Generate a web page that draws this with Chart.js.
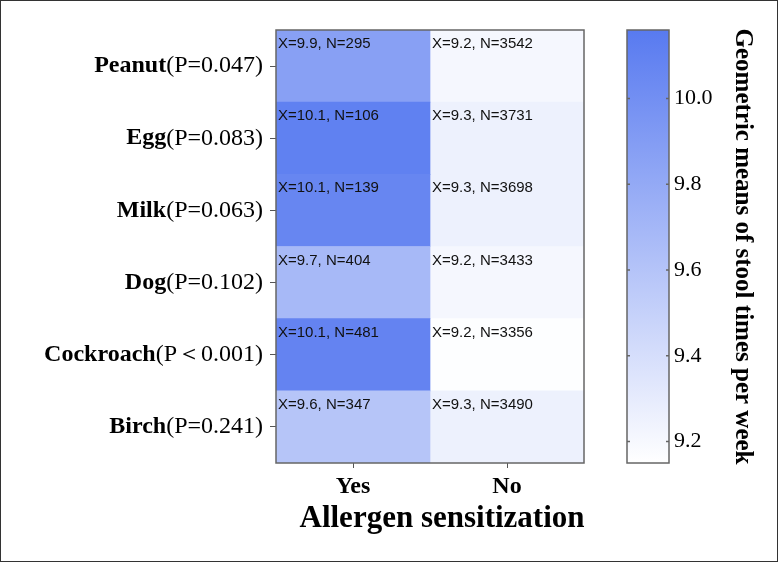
<!DOCTYPE html>
<html>
<head>
<meta charset="utf-8">
<script src="https://cdn.jsdelivr.net/npm/chart.js@4.4.1/dist/chart.umd.min.js"></script>
<style>
    html, body { margin: 0; padding: 0; background: #fff; }
    #frame { position: relative; width: 778px; height: 562px; overflow: hidden; }
    #heat { position: absolute; left: 0; top: 0; }
    #bar { position: absolute; left: 584px; top: 0; }
    #edge { position: absolute; left: 0; top: 0; width: 778px; height: 562px; box-sizing: border-box; border: 1px solid #333; pointer-events: none; }
</style>
</head>
<body>
<div id="frame">
    <canvas id="heat" width="778" height="562"></canvas>
    <canvas id="bar" width="194" height="562"></canvas>
    <div id="edge"></div>
</div>
<script>
const allergens = ['Peanut', 'Egg', 'Milk', 'Dog', 'Cockroach', 'Birch'];
const pValues = ['(P=0.047)', '(P=0.083)', '(P=0.063)', '(P=0.102)', '(P\uFF1C0.001)', '(P=0.241)'];
const groups = ['Yes', 'No'];

// geometric means (colour from these, label shows 1 decimal)
const meansYes = [9.87, 10.11, 10.07, 9.68, 10.09, 9.59];
const meansNo = [9.21, 9.26, 9.26, 9.21, 9.16, 9.26];
const nYes = [295, 106, 139, 404, 481, 347];
const nNo = [3542, 3731, 3698, 3433, 3356, 3490];

const barTicks = [9.2, 9.4, 9.6, 9.8, 10.0];
const scaleMin = 9.15;
const scaleMax = 10.16;

function heatColor(v) {
    let t = (v - scaleMin) / (scaleMax - scaleMin);
    t = Math.max(0, Math.min(1, t));
    let r = Math.round(255 + (88 - 255) * t);
    let g = Math.round(255 + (122 - 255) * t);
    let b = Math.round(255 + (240 - 255) * t);
    return `rgb(${r},${g},${b})`;
}

const heatPlugin = {
    id: 'heatPlugin',
    afterDatasetsDraw(chart) {
        const ctx = chart.ctx;
        ctx.save();
        ctx.font = '15px "Liberation Sans", Arial, sans-serif';
        ctx.fillStyle = '#111';
        ctx.textBaseline = 'middle';
        ctx.textAlign = 'left';
        chart.data.datasets.forEach((ds, i) => {
            chart.getDatasetMeta(i).data.forEach((el, j) => {
                let left = Math.min(el.x, el.base);
                let top = el.y - el.height / 2;
                ctx.fillText(`X=${ds.means[j].toFixed(1)}, N=${ds.n[j]}`, left + 2, top + 14);
            });
        });
        ctx.restore();
    },
    afterDraw(chart) {
        const ctx = chart.ctx;
        const a = chart.chartArea;
        ctx.save();
        ctx.strokeStyle = '#666';
        ctx.lineWidth = 1.5;
        ctx.strokeRect(a.left, a.top, a.right - a.left, a.bottom - a.top);

        // row labels: bold name + regular p value
        const y = chart.scales.y;
        ctx.fillStyle = '#000';
        ctx.textBaseline = 'middle';
        ctx.textAlign = 'left';
        allergens.forEach((name, i) => {
            let py = y.getPixelForTick(i);
            ctx.font = 'bold 24px "Liberation Serif", serif';
            let w1 = ctx.measureText(name).width;
            ctx.font = '24px "Liberation Serif", serif';
            let w2 = ctx.measureText(pValues[i]).width;
            let x0 = 263 - w1 - w2;
            ctx.font = 'bold 24px "Liberation Serif", serif';
            ctx.fillText(name, x0, py);
            ctx.font = '24px "Liberation Serif", serif';
            ctx.fillText(pValues[i], x0 + w1, py);
        });

        // x axis title
        ctx.font = 'bold 31px "Liberation Serif", serif';
        ctx.textAlign = 'center';
        ctx.fillText('Allergen sensitization', 442, 519);
        ctx.restore();
    }
};

new Chart(document.getElementById('heat'), {
    type: 'bar',
    data: {
        labels: allergens,
        datasets: [
            {label: groups[0], data: allergens.map(() => 1), backgroundColor: meansYes.map(heatColor), means: meansYes, n: nYes},
            {label: groups[1], data: allergens.map(() => 1), backgroundColor: meansNo.map(heatColor), means: meansNo, n: nNo}
        ]
    },
    options: {
        indexAxis: 'y',
        responsive: false,
        animation: false,
        layout: {padding: {top: 30, right: 194, left: 0, bottom: 0}},
        plugins: {legend: {display: false}, tooltip: {enabled: false}},
        datasets: {bar: {barPercentage: 1, categoryPercentage: 1, borderWidth: 0}},
        scales: {
            x: {
                type: 'linear',
                stacked: true,
                min: 0,
                max: 2,
                afterBuildTicks: s => { s.ticks = [{value: 0.5}, {value: 1.5}]; },
                afterFit: s => { s.height = 99; },
                ticks: {
                    callback: v => v < 1 ? groups[0] : groups[1],
                    font: {family: 'Liberation Serif', size: 24, weight: 'bold'},
                    color: '#000',
                    padding: 4,
                    maxRotation: 0
                },
                grid: {drawOnChartArea: false, tickLength: 5, color: '#555'},
                border: {display: false}
            },
            y: {
                stacked: true,
                afterFit: s => { s.width = 276; },
                ticks: {callback: () => ''},
                grid: {drawOnChartArea: false, offset: false, tickLength: 6, color: '#555'},
                border: {display: false}
            }
        }
    },
    plugins: [heatPlugin]
});

const barPlugin = {
    id: 'barPlugin',
    afterDraw(chart) {
        const ctx = chart.ctx;
        const a = chart.chartArea;
        const y = chart.scales.y;
        ctx.save();
        ctx.strokeStyle = '#666';
        ctx.lineWidth = 1.5;
        barTicks.forEach(v => {
            let py = y.getPixelForValue(v);
            ctx.beginPath();
            ctx.moveTo(a.left, py); ctx.lineTo(a.left + 3, py);
            ctx.moveTo(a.right - 3, py); ctx.lineTo(a.right, py);
            ctx.stroke();
        });
        ctx.strokeRect(a.left, a.top, a.right - a.left, a.bottom - a.top);
        ctx.restore();
    }
};

new Chart(document.getElementById('bar'), {
    type: 'bar',
    data: {
        labels: [''],
        datasets: [{
            data: [[scaleMin, scaleMax]],
            backgroundColor: function (c) {
                const chart = c.chart;
                if (!chart.chartArea) return heatColor(scaleMax);
                const y = chart.scales.y;
                const g = chart.ctx.createLinearGradient(0, y.getPixelForValue(scaleMin), 0, y.getPixelForValue(scaleMax));
                g.addColorStop(0, heatColor(scaleMin));
                g.addColorStop(1, heatColor(scaleMax));
                return g;
            },
            barPercentage: 1,
            categoryPercentage: 1,
            borderWidth: 0
        }]
    },
    options: {
        responsive: false,
        animation: false,
        layout: {padding: {left: 43, top: 30, right: 0, bottom: 99}},
        plugins: {legend: {display: false}, tooltip: {enabled: false}},
        scales: {
            x: {display: false},
            y: {
                position: 'right',
                min: scaleMin,
                max: scaleMax,
                afterBuildTicks: s => { s.ticks = barTicks.map(v => ({value: v})); },
                afterFit: s => { s.width = 109; },
                ticks: {
                    callback: v => v.toFixed(1),
                    font: {family: 'Liberation Serif', size: 22},
                    color: '#000',
                    padding: 5
                },
                grid: {display: false, drawTicks: false},
                border: {display: false},
                title: {
                    display: true,
                    text: 'Geometric means of stool times per week',
                    font: {family: 'Liberation Serif', size: 25, weight: 'bold'},
                    color: '#000',
                    padding: {top: 21, bottom: 0}
                }
            }
        }
    },
    plugins: [barPlugin]
});
</script>
</body>
</html>
